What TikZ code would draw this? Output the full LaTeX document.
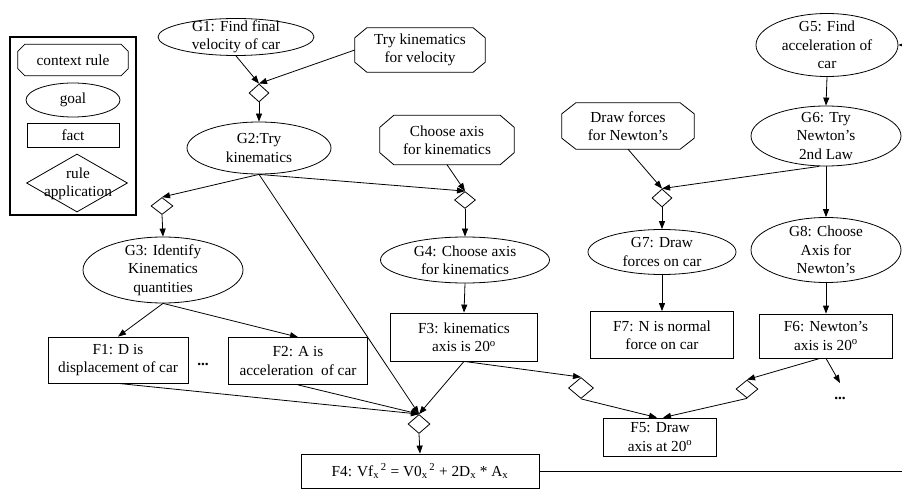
\documentclass[tikz,border=0pt]{standalone}
\usepackage{fontspec}
\setmainfont{Liberation Serif}
\usetikzlibrary{shapes.geometric, arrows.meta}
\newcommand\goalnode[6]{\node[goal, minimum width=#4pt, minimum height=#5pt] (#1) at (#2,#3) {};
  \node (#1t) at (#1) {#6};}
\newcommand\octdraw[3]{\draw[plain] ([xshift=#2pt]#1.north west) -- ([xshift=-#2pt]#1.north east) -- ([yshift=-#3pt]#1.north east) -- ([yshift=#3pt]#1.south east) -- ([xshift=-#2pt]#1.south east) -- ([xshift=#2pt]#1.south west) -- ([yshift=#3pt]#1.south west) -- ([yshift=-#3pt]#1.north west) -- cycle;}
\begin{document}
\begin{tikzpicture}[x=1pt,y=-1pt,
  every node/.style={font=\fontsize{15.3}{18.4}\selectfont, align=center, inner sep=0pt},
  goal/.style={ellipse, draw, line width=0.8pt},
  fact/.style={rectangle, draw, line width=0.8pt},
  ctx/.style={rectangle},
  rapp/.style={diamond, draw, line width=0.8pt},
  conn/.style={line width=0.8pt, -{Triangle[length=8pt,width=6pt]}},
  plain/.style={line width=0.8pt}]
\useasboundingbox (0,0) rectangle (902,489);
% legend
\node[draw, line width=2pt, minimum width=126pt, minimum height=178pt] (legend) at (73,126) {};
\node[ctx, minimum width=110pt, minimum height=31pt] (lctx) at (73,60) {context rule};
\goalnode{lgoal}{73}{100}{94}{34}{goal}
\node[fact, minimum width=92pt, minimum height=24pt] (lfact) at (73,135) {fact};
\node[rapp, minimum width=101pt, minimum height=58pt] (lrule) at (77,183) {};
\node (lrulet) at (78,184) {rule\\application};
% main nodes
\goalnode{G1}{236}{37}{156}{37}{G1: Find final\\velocity of car}
\node[ctx, minimum width=130pt, minimum height=44pt] (tkv) at (420,50) {Try kinematics\\for velocity};
\node[rapp, minimum width=20pt, minimum height=18pt] (d1) at (259,93) {};
\goalnode{G2}{259}{148}{144}{52}{G2:Try\\kinematics}
\node[ctx, minimum width=134pt, minimum height=49pt] (cak) at (447,140) {Choose axis\\for kinematics};
\node[rapp, minimum width=21pt, minimum height=17pt] (d4) at (465,200) {};
\goalnode{G4}{465}{260}{169}{46}{G4: Choose axis\\for kinematics}
\node[rapp, minimum width=22pt, minimum height=17pt] (d3) at (162,206) {};
\goalnode{G3}{163}{270}{160}{66}{G3: Identify\\Kinematics\\quantities}
\node[fact, minimum width=140pt, minimum height=46pt] (F1) at (118,360) {F1: D is\\displacement of car};
\node (dots1) at (203,364) {\textbf{...}};
\node[fact, minimum width=139pt, minimum height=47pt] (F2) at (298,361) {F2: A is\\acceleration~ of car};
\node[fact, minimum width=147pt, minimum height=48pt] (F3) at (464,337) {F3: kinematics\\axis is 20\textsuperscript{o}};
\node[rapp, minimum width=22pt, minimum height=19pt] (dF4) at (419,424) {};
\node[fact, minimum width=238pt, minimum height=34pt] (F4) at (420,471) {F4: Vf\textsubscript{x}\textsuperscript{\,2} = V0\textsubscript{x}\textsuperscript{\,2} + 2D\textsubscript{x} * A\textsubscript{x}};
\goalnode{G7}{662}{252}{148}{45}{G7: Draw\\forces on car}
\node[rapp, minimum width=20pt, minimum height=18pt] (d7) at (662,198) {};
\node[ctx, minimum width=132pt, minimum height=46pt] (dfn) at (628,126) {Draw forces\\for Newton’s};
\goalnode{G5}{827}{45}{142}{63}{G5: Find\\acceleration of\\car}
\goalnode{G6}{826}{136}{150}{60}{G6: Try\\Newton’s\\2nd Law}
\goalnode{G8}{826}{250}{150}{65}{G8: Choose\\Axis for\\Newton’s}
\node[fact, minimum width=143pt, minimum height=47pt] (F7) at (662,335) {F7: N is normal\\force on car};
\node[fact, minimum width=133pt, minimum height=44pt] (F6) at (826,336) {F6: Newton’s\\axis is 20\textsuperscript{o}};
\node[rapp, minimum width=25pt, minimum height=21pt] (d5a) at (581,388) {};
\node[rapp, minimum width=22pt, minimum height=18pt] (d5b) at (747,389) {};
\node[fact, minimum width=113pt, minimum height=38pt] (F5) at (660,437) {F5: Draw\\axis at 20\textsuperscript{o}};
\node (dots2) at (840,398) {\textbf{...}};
\coordinate (dotsend) at (840,383);
\coordinate (redge1) at (902,471);
\coordinate (redge2) at (902,45);
% octagons
\octdraw{lctx}{7}{7}
\octdraw{tkv}{12}{10}
\octdraw{cak}{14}{12}
\octdraw{dfn}{14}{11}
% connectors
\draw[conn] (G1.south) -- (d1.north);
\draw[conn] (tkv.west) -- (d1.north);
\draw[conn] (d1.south) -- (G2.north);
\draw[conn] (G2.south) -- (d3.north);
\draw[conn] (G2.south) -- (d4.north);
\draw[conn] (cak.south) -- (d4.north);
\draw[conn] (d4.south) -- (G4.north);
\draw[conn] (d3.south) -- (G3.north);
\draw[conn] (G3.south) -- (F1.north);
\draw[conn] (G3.south) -- (F2.north);
\draw[conn] (G2.south) -- (dF4.north);
\draw[conn] (F1.south) -- (dF4.north);
\draw[conn] (F2.south) -- (dF4.north);
\draw[conn] (F3.south) -- (dF4.north);
\draw[conn] (dF4.south) -- (F4.north);
\draw[conn] (G4.south) -- (F3.north);
\draw[conn] (F3.south) -- (d5a.north);
\draw[conn] (d5a.south) -- ([xshift=-3pt]F5.north);
\draw[conn] ([xshift=-6pt]F6.south) -- (d5b.north);
\draw[conn] (d5b.south) -- ([xshift=3pt]F5.north);
\draw[conn] (F6.south) -- (dotsend);
\draw[conn] (G7.south) -- (F7.north);
\draw[conn] (G8.south) -- (F6.north);
\draw[conn] (G5.south) -- (G6.north);
\draw[conn] (G6.south) -- (G8.north);
\draw[conn] ([xshift=-7pt]G6.south) -- (d7.north);
\draw[conn] (dfn.south) -- (d7.north);
\draw[conn] (d7.south) -- (G7.north);
\draw[plain] (F4.east) -- (redge1);
\draw[conn] (redge2) -- (G5.east);
\end{tikzpicture}
\end{document}
